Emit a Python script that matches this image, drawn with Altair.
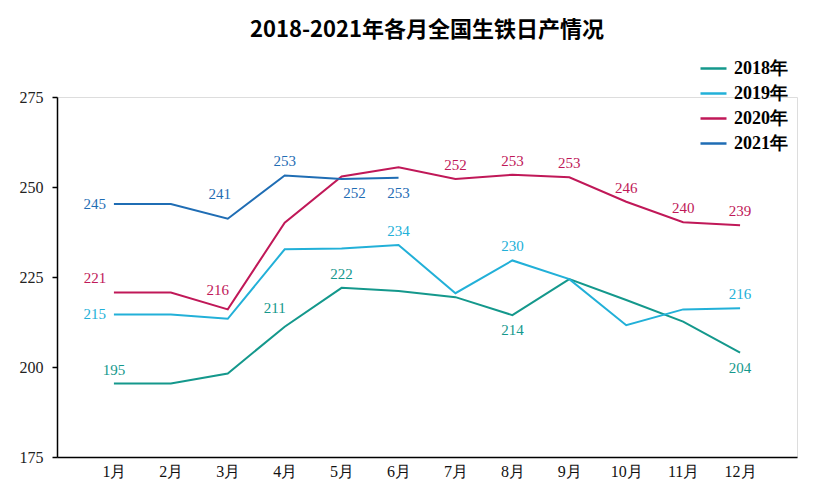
import altair as alt
import pandas as pd
import json

months = ["1月", "2月", "3月", "4月", "5月", "6月", "7月", "8月", "9月", "10月", "11月", "12月"]
years = ["2018年", "2019年", "2020年", "2021年"]

v2018 = [195.4, 195.4, 198.2, 211.2, 222.0, 221.1, 219.4, 214.4, 224.4, 218.6, 212.6, 204.0]
v2019 = [214.6, 214.6, 213.4, 232.7, 232.9, 233.9, 220.5, 229.6, 224.4, 211.6, 216.0, 216.3]
v2020 = [220.7, 220.7, 216.0, 240.1, 252.9, 255.5, 252.2, 253.4, 252.7, 245.9, 240.2, 239.4]
v2021 = [245.3, 245.3, 241.2, 253.2, 252.2, 252.6]

# which points carry a value label, and on which side of the point
lab2018 = ["n", None, None, "nw", "n", None, None, "s", None, None, None, "s"]
lab2019 = ["w", None, None, None, None, "n", None, "n", None, None, None, "n"]
lab2020 = ["nww", None, "nw", None, None, None, "n", "n", "n", "n", "n", "n"]
lab2021 = ["w", None, "nnw", "n", "se", "s"]

colors = ["#14988c", "#22b0d8", "#c01858", "#1f6db4"]

rows = []
for yr, vals, labs in zip(years, [v2018, v2019, v2020, v2021], [lab2018, lab2019, lab2020, lab2021]):
    for i, (v, l) in enumerate(zip(vals, labs)):
        rows.append({"m": i + 1, "value": v, "year": yr, "pos": l if l else ""})
df = pd.DataFrame(rows)

offsets = {
    "n": dict(dx=0, dy=-14, align="center"),
    "s": dict(dx=0, dy=15, align="center"),
    "w": dict(dx=-8, dy=0, align="right"),
    "nw": dict(dx=-10, dy=-19, align="center"),
    "nnw": dict(dx=-8, dy=-25, align="center"),
    "nww": dict(dx=-19, dy=-14, align="center"),
    "se": dict(dx=13, dy=14, align="center"),
}

label_expr = json.dumps(months) + "[datum.value - 1]"

x_enc = alt.X("m:Q", scale=alt.Scale(domain=[0, 13], nice=False, zero=False),
              axis=alt.Axis(values=list(range(1, 13)), labelExpr=label_expr, title=None,
                            ticks=False, grid=False, labelPadding=6, labelFontSize=16,
                            labelFont="Liberation Serif", labelColor="#111",
                            domainColor="#000", domainWidth=1.5))
y_enc = alt.Y("value:Q", scale=alt.Scale(domain=[175, 275], nice=False, zero=False),
              axis=alt.Axis(values=[175, 200, 225, 250, 275], title=None, grid=False,
                            tickSize=5, tickColor="#000", tickWidth=1.5, labelPadding=9,
                            labelFontSize=16, labelFont="Liberation Serif", labelColor="#222",
                            domainColor="#000", domainWidth=1.5))
color_scale = alt.Scale(domain=years, range=colors)

base = alt.Chart(df)

lines = base.mark_line(strokeWidth=2).encode(
    x=x_enc, y=y_enc,
    color=alt.Color("year:N", scale=color_scale,
                    legend=alt.Legend(title=None, orient="none", legendX=642, legendY=-43,
                                      symbolType="stroke", symbolSize=676, symbolStrokeWidth=2.5,
                                      labelFont="Liberation Serif", labelFontSize=18,
                                      labelFontWeight="bold", labelColor="#000",
                                      rowPadding=1, labelOffset=6)),
)

layers = [lines]
for code, o in offsets.items():
    layers.append(
        base.transform_filter(alt.datum.pos == code)
        .mark_text(font="Liberation Serif", fontSize=15, dx=o["dx"], dy=o["dy"],
                   align=o["align"], baseline="middle")
        .encode(x="m:Q", y="value:Q", text=alt.Text("value:Q", format=".0f"),
                color=alt.Color("year:N", scale=color_scale, legend=None))
    )

chart = alt.layer(*layers).properties(
    width=740, height=360,
    title=alt.TitleParams("2018-2021年各月全国生铁日产情况", font="Noto Sans CJK SC",
                          fontSize=22, fontWeight="bold", color="#000", anchor="middle",
                          offset=12),
    autosize=alt.AutoSizeParams(type="none"),
    padding={"left": 49, "top": 89, "right": 12, "bottom": 25},
).configure_view(stroke=None).configure(background="#ffffff")

chart.save("out.html", embed_options={"renderer": "svg", "actions": False})
